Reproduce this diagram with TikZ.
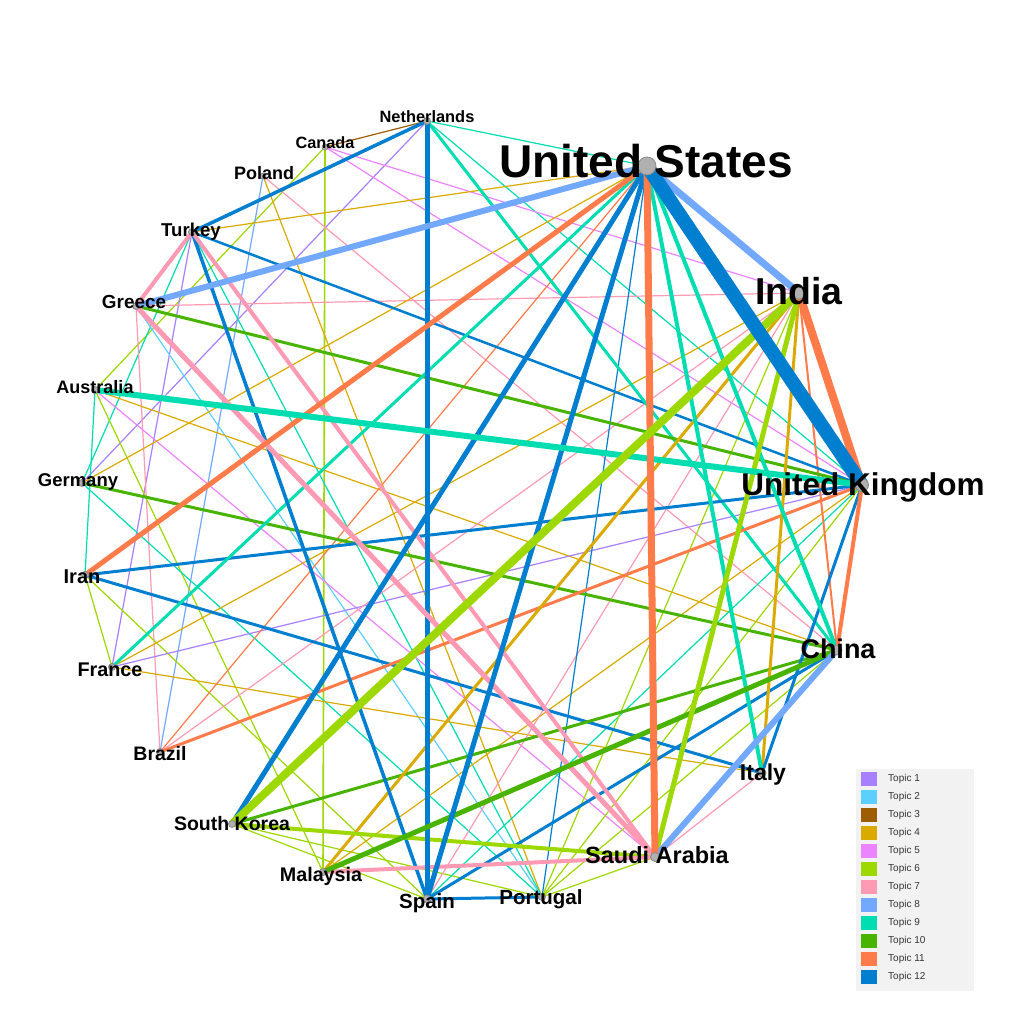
\documentclass[tikz,border=0pt]{standalone}
\usepackage{fontspec}
\setmainfont{Liberation Sans}
\definecolor{c1}{HTML}{A880FF}
\definecolor{c2}{HTML}{5BD0FF}
\definecolor{c3}{HTML}{9E5E00}
\definecolor{c4}{HTML}{DBAA00}
\definecolor{c5}{HTML}{EC84FF}
\definecolor{c6}{HTML}{9DD800}
\definecolor{c7}{HTML}{FF9AB5}
\definecolor{c8}{HTML}{73A8FF}
\definecolor{c9}{HTML}{00DDB0}
\definecolor{c10}{HTML}{48B400}
\definecolor{c11}{HTML}{FF7B4A}
\definecolor{c12}{HTML}{007ECF}
\definecolor{dotfill}{HTML}{B0B0B0}
\definecolor{dotline}{HTML}{8A8A8A}
\definecolor{legbg}{HTML}{F2F2F2}
\definecolor{legtext}{HTML}{333333}
\tikzset{
  dot/.style={circle,fill=dotfill,draw=dotline,line width=0.8pt,inner sep=0pt},
  lab/.style={font=\bfseries,text=black,inner sep=0pt,anchor=base},
  legsw/.style={inner sep=0pt,minimum width=16pt,minimum height=14pt},
  legtx/.style={font=\fontsize{10}{12}\selectfont,text=legtext,anchor=west,inner sep=0pt}
}
\begin{document}
\begin{tikzpicture}[x=1pt,y=-1pt]
\useasboundingbox (0,0) rectangle (1022,1029);
\fill[white] (0,0) rectangle (1022,1029);
% node positions
\coordinate (US) at (647,166);
\coordinate (IN) at (799,293);
\coordinate (UK) at (862,485);
\coordinate (CN) at (837,650);
\coordinate (IT) at (762,773);
\coordinate (SA) at (655,857);
\coordinate (PT) at (542,897);
\coordinate (ES) at (427,899);
\coordinate (MY) at (323,872);
\coordinate (KR) at (232,824);
\coordinate (BR) at (160,752);
\coordinate (FR) at (112,667);
\coordinate (IR) at (85,575);
\coordinate (DE) at (82,483);
\coordinate (AU) at (95,390);
\coordinate (GR) at (136,306);
\coordinate (TR) at (192,232);
\coordinate (PL) at (263,176);
\coordinate (CA) at (325,147);
\coordinate (NL) at (427,121);
% connectors
\foreach \a/\b/\c/\w in {
 NL/CA/3/1.2, NL/DE/1/1.2, NL/UK/9/1.2, NL/US/9/1.2,
 CA/AU/6/1.2, CA/MY/6/1.6, CA/IN/5/1.2, CA/UK/5/1.2,
 PL/BR/8/1.2, PL/PT/4/1.2, PL/CN/7/1.2,
 TR/US/4/1.2, TR/DE/9/1.2, TR/FR/1/1.2, TR/PT/9/1.2,
 GR/IN/7/1.2, GR/PT/2/1.2, GR/BR/7/1.2,
 AU/IR/9/1.2, AU/MY/6/1.2, AU/SA/5/1.2, AU/CN/4/1.2,
 DE/US/4/1.2, DE/PT/9/1.2,
 IR/FR/6/1.2, IR/ES/6/1.2,
 FR/IN/4/1.2, FR/UK/1/1.2, FR/IT/4/1.2,
 BR/US/11/1.2, BR/IN/7/1.2,
 KR/PT/6/1.2, KR/ES/6/1.2, MY/UK/4/1.2,
 ES/IN/7/1.2, ES/UK/9/1.2,
 PT/US/12/1.2, PT/IN/6/1.2, PT/UK/6/1.2, PT/SA/6/1.2, PT/CN/6/1.2,
 SA/IT/7/1.2,
 CN/IN/11/2,
 TR/UK/12/2.5, NL/CN/9/3, GR/UK/10/3, DE/CN/10/3,
 IR/UK/12/3, IR/IT/12/3, FR/US/9/3, BR/UK/11/3, KR/CN/10/3,
 MY/IN/4/3, ES/PT/12/3, ES/CN/12/3, IT/IN/4/3, IT/UK/12/3,
 NL/TR/12/3.5, TR/ES/12/3.5,
 TR/SA/7/4, TR/GR/7/4, KR/SA/6/4, MY/SA/7/4,
 IT/US/9/4, CN/US/9/4, CN/UK/11/4,
 NL/ES/12/5, GR/SA/7/5, IR/US/11/5, KR/US/12/5, MY/CN/10/5, ES/US/12/5, SA/IN/6/5,
 GR/US/8/6, AU/UK/9/6, SA/CN/8/6,
 SA/US/11/7, IN/US/8/7,
 KR/IN/6/8, IN/UK/11/8,
 US/UK/12/14}
 \draw[line width=\w pt, draw=c\c] (\a) -- (\b);
% dots
\foreach \n/\r in {US/18, IN/12, UK/13, CN/10, IT/8, SA/9, PT/7, ES/8, MY/7, KR/7,
  BR/7, FR/7, IR/7, DE/7, AU/7, GR/7, TR/7, PL/6, CA/6, NL/7}
  \node[dot,minimum size=\r pt] (d\n) at (\n) {};
% labels (x, baseline, size)
\foreach \n/\x/\y/\s/\t in {US/646/177.5/46/United States, IN/799/304.4/37.5/India,
  UK/863/495.3/31.5/United Kingdom, CN/838/658.7/27/China, IT/763/780.2/23/Italy,
  SA/657/863.4/23.5/Saudi Arabia, PT/541/904.3/20.5/Portugal, ES/427/908.3/20.5/Spain,
  MY/321/881/19.7/Malaysia, KR/232/830/19.5/South Korea, BR/160/760/19.5/Brazil,
  FR/110/676.1/19.8/France, IR/82/583.2/20/Iran, DE/78/486.6/18.5/Germany,
  AU/95/393.4/18/Australia, GR/134/308.8/18.9/Greece, TR/191/236.7/18.6/Turkey,
  PL/264/179.4/18/Poland, CA/325/148.8/16.3/Canada, NL/427/122.9/16.4/Netherlands}
  \node[lab,font=\bfseries\fontsize{\s}{\s}\selectfont] (l\n) at (\x,\y) {\t};
% legend
\fill[legbg] (856,769) rectangle (974,991);
\foreach \i in {1,...,12}{
  \node[legsw,fill=c\i] (sw\i) at (869,{779+18*(\i-1)}) {};
  \node[legtx] (lt\i) at (888,{779+18*(\i-1)}) {Topic \i};
}
\end{tikzpicture}
\end{document}
